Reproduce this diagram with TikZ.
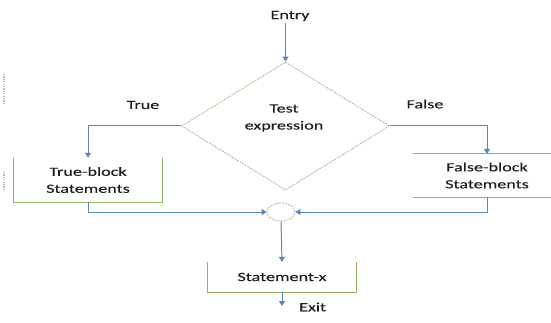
\documentclass[tikz,border=0pt]{standalone}
\usepackage{fontspec}
\setmainfont{Carlito}[FakeStretch=1.45,FakeBold=0.25]
\usetikzlibrary{shapes.geometric,arrows.meta}
\definecolor{flowblue}{HTML}{5A86B8}
\definecolor{boxgreen}{HTML}{8FB465}
\definecolor{dashgreen}{HTML}{AFB98A}
\definecolor{txt}{HTML}{1E1E1E}
\tikzset{
  lbl/.style={text=txt,font=\fontsize{12.5}{17}\selectfont,align=center,inner sep=0pt},
  flow/.style={draw=flowblue,line width=1pt,-{Triangle[length=5pt,width=6pt]}},
  boxedge/.style={draw=boxgreen,line width=1pt},
  blockbox/.style={lbl,rectangle,minimum width=148pt},
  decision/.style={diamond,draw=dashgreen,line width=0.8pt,dash pattern=on 2pt off 1pt,
    minimum width=208pt,minimum height=128pt,inner sep=0pt},
  joiner/.style={ellipse,draw=dashgreen,line width=0.8pt,dash pattern=on 2pt off 1pt,
    minimum width=28pt,minimum height=18pt,inner sep=0pt},
  edgemark/.style={draw=black!28,line width=2pt,dash pattern=on 1.2pt off 1.2pt}
}
\begin{document}
\begin{tikzpicture}[x=1pt,y=-1pt]
\useasboundingbox (0,0) rectangle (551,323);
\clip (0,0) rectangle (551,323);

% faint marks at the left margin
\draw[edgemark] (4,74) -- (4,103);
\draw[edgemark] (4,172) -- (4,189);

% nodes
\node[lbl] (entry) at (290,16) {Entry};
\node[decision] (dia) at (285.5,126) {};
\node[lbl] (test) at (284,118) {Test\\expression};
\node[lbl] (truelbl) at (143,105) {True};
\node[lbl] (falselbl) at (425,104) {False};
\node[blockbox,minimum height=44pt] (tb) at (88,180) {True-block\\Statements};
\node[blockbox,minimum height=43pt] (fb) at (487,175.5) {False-block\\Statements};
\node[joiner] (join) at (281,212) {};
\node[blockbox,minimum height=30pt] (sx) at (282,277) {Statement-x};
\coordinate (exitpt) at (282,306);
\node[lbl,anchor=west] (exit) at (299,307) {Exit};

% partial box outlines
\draw[boxedge] (tb.north west) -- (tb.south west) -- (tb.south east) -- (tb.north east);
\draw[boxedge] (fb.north west) -- (fb.north east);
\draw[boxedge] (fb.south west) -- (fb.south east);
\draw[boxedge] (sx.north west) -- (sx.south west) -- (sx.south east) -- (sx.north east);

% connectors
\draw[flow] (entry.south -| dia.north) ++(0,2) -- (dia.north);
\draw[flow] (dia.west) -| (tb.north);
\draw[flow] (dia.east) -| (fb.north);
\draw[flow] (tb.south) |- (join.west);
\draw[flow] (fb.south) |- (join.east);
\draw[flow] (join.south) -- (sx.north);
\draw[flow] (sx.south) -- (exitpt);
\end{tikzpicture}
\end{document}
